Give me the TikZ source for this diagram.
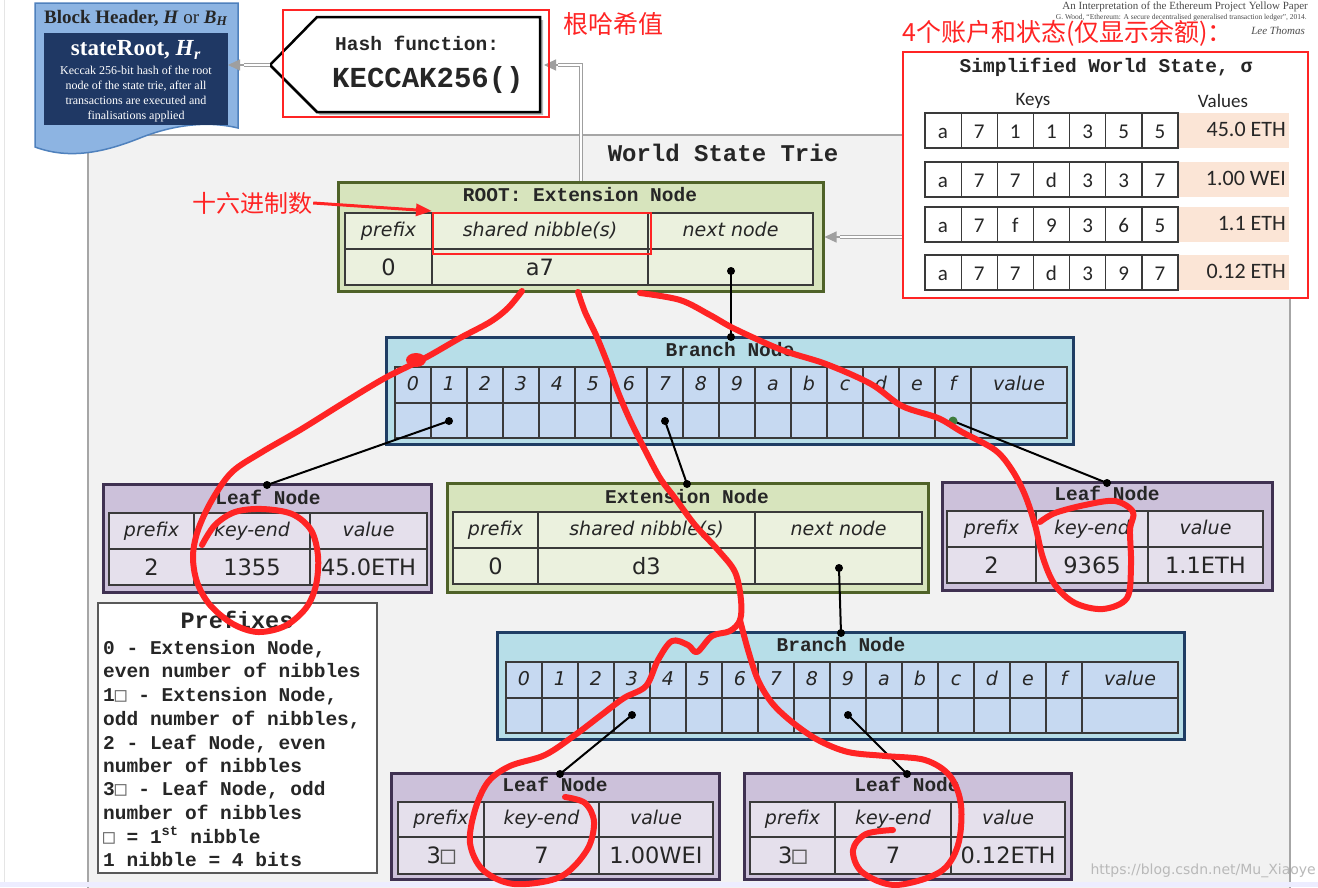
\documentclass[tikz,border=0pt]{standalone}
\usepackage{fontspec}
\setmainfont{Liberation Serif}
\newfontfamily\mono{Liberation Mono}
\newfontfamily\dvs{DejaVu Sans}
\newfontfamily\dvm{DejaVu Sans Mono}
\newfontfamily\carl{Carlito}
\newfontfamily\cjk{Noto Sans CJK SC}
\usetikzlibrary{arrows.meta,fit,calc}
\definecolor{rootfill}{HTML}{D7E4BD}
\definecolor{rootcell}{HTML}{EBF1DE}
\definecolor{rootline}{HTML}{4F6228}
\definecolor{brfill}{HTML}{B7DEE8}
\definecolor{brcell}{HTML}{C6D9F1}
\definecolor{brline}{HTML}{1F3D64}
\definecolor{lffill}{HTML}{CCC1DA}
\definecolor{lfcell}{HTML}{E5E0EC}
\definecolor{lfline}{HTML}{3F3151}
\definecolor{tblc}{HTML}{3A3A3A}
\definecolor{txt}{HTML}{262626}
\definecolor{pen}{HTML}{FF2424}
\definecolor{bhfill}{HTML}{8DB4E2}
\definecolor{bhline}{HTML}{4F81BD}
\definecolor{bhdark}{HTML}{1F3864}
\definecolor{peach}{HTML}{FBE5D6}
\definecolor{triebg}{HTML}{F2F2F2}
\definecolor{triel}{HTML}{A6A6A6}
\definecolor{dkgreen}{HTML}{3E7D3E}
\newcommand\myfs[1]{\fontsize{#1}{#1}\selectfont}
\newcommand\mysq{{\dvm\color{gray!80!black}□}}
\newcommand\mytbl[8]{%
  \draw[tline, fill=#8] (#1,#5) rectangle (#4,#7);
  \draw[tline] (#1,#6) -- (#4,#6) (#2,#5) -- (#2,#7) (#3,#5) -- (#3,#7);
}
\newcommand\mybranch[3]{%
  \node[draw=brline, line width=3pt, fill=brfill, inner sep=0pt, fit={(#2-9,#3-30) (#2+678,#3+77)}] (#1) {};
  \node[ttltxt] (#1t) at (#2+335,#3-15) {Branch Node};
  \draw[tline, fill=brcell] (#2,#3) rectangle (#2+672,#3+71);
  \draw[tline] (#2,#3+36) -- (#2+672,#3+36);
  \foreach \i in {1,...,16} \draw[tline] (#2+36*\i,#3) -- (#2+36*\i,#3+71);
  \foreach \l [count=\i from 0] in {0,1,2,3,4,5,6,7,8,9,a,b,c,d,e,f}
    \node[hdtxt] (#1c\i) at (#2+36*\i+18,#3+18) {\l};
  \node[hdtxt] (#1v) at (#2+624,#3+18) {value};
}
\tikzset{
  tline/.style={draw=tblc, line width=1.3pt},
  hdtxt/.style={font=\dvs\itshape\myfs{19}, text=txt, text height=14pt, text depth=4pt, inner sep=0pt},
  valtxt/.style={font=\dvs\myfs{22.5}, text=txt, text height=16pt, text depth=0pt, inner sep=0pt},
  ttltxt/.style={font=\mono\bfseries\myfs{19.5}, text=txt, text height=12pt, text depth=3pt, inner sep=0pt},
  pfx/.style={font=\mono\bfseries\myfs{19.5}, text=txt, anchor=base west, inner sep=0pt},
  dblline/.style={draw=gray!75, double=white, double distance=2pt, line width=1.3pt},
  tipgray/.style={draw=gray!75, line width=1.2pt, -{Triangle[length=12pt,width=11pt]}},
  connline/.style={draw=black, line width=2pt},
  penline/.style={draw=pen, line width=6pt, line cap=round, line join=round},
  rootbox/.style={draw=rootline, line width=3pt, fill=rootfill, inner sep=0pt},
  leafbox/.style={draw=lfline, line width=3pt, fill=lffill, inner sep=0pt},
  wscell/.style={font=\carl\myfs{21}, text=txt, inner sep=0pt, text height=14pt, text depth=0pt},
}
\begin{document}
\begin{tikzpicture}[x=1pt,y=-1pt]
\useasboundingbox (0,0) rectangle (1318,887);
\fill[white] (0,0) rectangle (1318,887);
\draw[gray!20, line width=1pt] (4,0) -- (4,887);
% world state trie background
\draw[triel, line width=2.5pt, fill=triebg] (88,135) rectangle (1290,905);
\node[font=\mono\bfseries\myfs{24}, text=txt] (wst) at (723,153) {World State Trie};
% block header
\draw[bhline, line width=1.5pt, fill=bhfill] (35,3) -- (238,3) -- (238,128)
  .. controls (205,120) and (170,126) .. (140,138)
  .. controls (105,152) and (70,160) .. (35,147) -- cycle;
\fill[bhdark] (44,33) rectangle (228,125);
\node[font=\bfseries\myfs{19}, text=txt] (bht) at (136,18) {Block Header, \textit{H} \textmd{or} \textit{B}\textsubscript{\textit{H}}};
\node[font=\bfseries\myfs{23}, text=white] (bhs) at (136,50) {stateRoot, \textit{H}\textsubscript{\textit{r}}};
\node[font=\fontsize{12}{15}\selectfont, text=white, align=center] (bhd) at (136,94) {Keccak 256-bit hash of the root\\node of the state trie, after all\\transactions are executed and\\finalisations applied};
\coordinate (bhR) at (228,65);
% hash function box
\fill[gray!55] (273,68) -- (320,20) -- (543,20) -- (543,115) -- (320,115) -- cycle;
\draw[line width=2.5pt, fill=white, line join=miter] (270,65) -- (317,17) -- (540,17) -- (540,112) -- (317,112) -- cycle;
\coordinate (hashL) at (270,65);
\coordinate (hashR) at (544,65);
\node[font=\mono\bfseries\myfs{19.5}, text=txt, anchor=west, inner sep=0pt] (hf1) at (335,43) {Hash function:};
\node[font=\mono\bfseries\myfs{29}, text=txt, anchor=west, inner sep=0pt] (hf2) at (332,80) {KECCAK256()};
% header texts top right
\node[anchor=base east, font=\myfs{11}, text=gray!60!black, inner sep=0pt] (ttl1) at (1308,9) {An Interpretation of the Ethereum Project Yellow Paper};
\node[anchor=base east, font=\myfs{7.5}, text=gray!60!black, inner sep=0pt] (ttl2) at (1307,19) {G. Wood, “Ethereum: A secure decentralised generalised transaction ledger”, 2014.};
\node[anchor=base east, font=\itshape\myfs{11}, text=gray!60!black, inner sep=0pt] (ttl3) at (1305,34) {Lee Thomas};
% root node
\node[rootbox, fit={(338,182) (823,291)}] (root) {};
\node[ttltxt] (roott) at (580,197) {ROOT: Extension Node};
\mytbl{345}{432}{648}{813}{213}{249}{285}{rootcell}
\node[hdtxt] (rooth1) at (388.5,231) {prefix};
\node[hdtxt] (rooth2) at (540,231) {shared nibble(s)};
\node[hdtxt] (rooth3) at (730.5,231) {next node};
\node[valtxt] (rootv1) at (388.5,267) {0};
\node[valtxt] (rootv2) at (540,267) {a7};
\coordinate (rootdot) at (731,271);
% arrows (double gray)
\coordinate (bhA) at (244,65);
\draw[dblline] (hashL) -- (bhA);
\draw[tipgray] (bhA) -- (bhR);
\coordinate (hashA) at (558,65);
\draw[dblline] (root.north -| 581,0) |- (hashA);
\draw[tipgray] (hashA) -- (hashR);
\coordinate (wsL) at (903,237);
\coordinate (rootA) at (840,237);
\draw[dblline] (wsL) -- (rootA);
\draw[tipgray] (rootA) -- (root.east |- rootA);
% simplified world state
\node[draw=gray!60, line width=1pt, fill=white, inner sep=0pt, fit={(903,52) (1308,298)}] (ws) {};
\node[font=\mono\bfseries\myfs{19.5}, text=txt] (wsT) at (1106,67) {Simplified World State, σ};
\node[font=\carl\myfs{19}, text=txt] (wsK) at (1033,101) {Keys};
\node[font=\carl\myfs{19}, text=txt] (wsV) at (1223,101) {Values};
\foreach \r/\yy/\ks/\vv in {1/113/{a,7,1,1,3,5,5}/45.0 ETH, 2/162/{a,7,7,d,3,3,7}/1.00 WEI, 3/207/{a,7,f,9,3,6,5}/1.1 ETH, 4/255/{a,7,7,d,3,9,7}/0.12 ETH}{
  \fill[peach] (1178,\yy) rectangle (1289,\yy+35);
  \draw[draw=tblc, line width=1.2pt, fill=white] (925,\yy) rectangle (1178,\yy+35);
  \foreach \j in {1,...,6} \draw[draw=tblc, line width=1.2pt] (925+36.15*\j,\yy) -- (925+36.15*\j,\yy+35);
  \foreach \k [count=\j from 0] in \ks
    \node[wscell] (ws\r k\j) at (943+36.15*\j,\yy+18) {\k};
  \node[font=\carl\myfs{22}, text=txt, anchor=east, inner sep=0pt, text height=15pt, text depth=0pt] (ws\r v) at (1286,\yy+16) {\vv};
}
% branch nodes
\mybranch{bA}{395}{367}
\mybranch{bB}{506}{662}
\coordinate (bAtop) at (731,337);
\coordinate (bAd1) at (449,421);
\coordinate (bAd7) at (665,421);
\coordinate (bAdf) at (953,421);
\coordinate (bBtop) at (841,633);
\coordinate (bBd3) at (632,715);
\coordinate (bBd9) at (848,715);
% extension node
\node[rootbox, fit={(447,483) (928,592)}] (ext) {};
\node[ttltxt] (extt) at (687,499) {Extension Node};
\mytbl{453}{538}{755}{922}{512}{548}{584}{rootcell}
\node[hdtxt] (exth1) at (495.5,530) {prefix};
\node[hdtxt] (exth2) at (646.5,530) {shared nibble(s)};
\node[hdtxt] (exth3) at (838.5,530) {next node};
\node[valtxt] (extv1) at (495.5,566) {0};
\node[valtxt] (extv2) at (646.5,566) {d3};
\coordinate (exttop) at (687,484);
\coordinate (extdot) at (839,568);
% leaf A
\node[leafbox, fit={(103,484) (431,592)}] (lfA) {};
\node[ttltxt] (lfAt) at (268,500) {Leaf Node};
\mytbl{109}{194}{310}{427}{513}{549}{585}{lfcell}
\node[hdtxt] (lfAh1) at (151.5,531) {prefix};
\node[hdtxt] (lfAh2) at (252,531) {key-end};
\node[hdtxt] (lfAh3) at (368.5,531) {value};
\node[valtxt] (lfAv1) at (151.5,567) {2};
\node[valtxt] (lfAv2) at (252,567) {1355};
\node[valtxt] (lfAv3) at (368.5,567) {45.0ETH};
\coordinate (lfAtop) at (267,485);
% leaf B
\node[leafbox, fit={(942,482) (1272,590)}] (lfB) {};
\node[ttltxt] (lfBt) at (1107,496) {Leaf Node};
\mytbl{947}{1036}{1148}{1263}{511}{547}{583}{lfcell}
\node[hdtxt] (lfBh1) at (991.5,529) {prefix};
\node[hdtxt] (lfBh2) at (1092,529) {key-end};
\node[hdtxt] (lfBh3) at (1205.5,529) {value};
\node[valtxt] (lfBv1) at (991.5,565) {2};
\node[valtxt] (lfBv2) at (1092,565) {9365};
\node[valtxt] (lfBv3) at (1205.5,565) {1.1ETH};
\coordinate (lfBtop) at (1107,483);
% leaf C
\node[leafbox, fit={(391,773) (719,879)}] (lfC) {};
\node[ttltxt] (lfCt) at (555,787) {Leaf Node};
\mytbl{398}{484}{599}{713}{802}{837}{874}{lfcell}
\node[hdtxt] (lfCh1) at (441,819.5) {prefix};
\node[hdtxt] (lfCh2) at (541.5,819.5) {key-end};
\node[hdtxt] (lfCh3) at (656,819.5) {value};
\node[valtxt] (lfCv1) at (441,855.5) {3{\dvm\myfs{24}\color{gray!70!black}□}};
\node[valtxt] (lfCv2) at (541.5,855.5) {7};
\node[valtxt] (lfCv3) at (656,855.5) {1.00WEI};
\coordinate (lfCtop) at (560,774);
% leaf D
\node[leafbox, fit={(744,773) (1071,879)}] (lfD) {};
\node[ttltxt] (lfDt) at (907,787) {Leaf Node};
\mytbl{750}{835}{951}{1065}{802}{837}{874}{lfcell}
\node[hdtxt] (lfDh1) at (792.5,819.5) {prefix};
\node[hdtxt] (lfDh2) at (893,819.5) {key-end};
\node[hdtxt] (lfDh3) at (1008,819.5) {value};
\node[valtxt] (lfDv1) at (792.5,855.5) {3{\dvm\myfs{24}\color{gray!70!black}□}};
\node[valtxt] (lfDv2) at (893,855.5) {7};
\node[valtxt] (lfDv3) at (1008,855.5) {0.12ETH};
\coordinate (lfDtop) at (907,774);
% prefixes box
\node[draw=gray!70!black, line width=2.5pt, fill=white, inner sep=0pt, fit={(98,603) (377,873)}] (pbox) {};
\node[font=\mono\bfseries\myfs{23.5}, text=txt] (pT) at (237,620) {Prefixes};
\node[pfx] (p1) at (103,654) {0 - Extension Node,};
\node[pfx] (p2) at (103,677) {even number of nibbles};
\node[pfx] (p3) at (103,701) {1\mysq{} - Extension Node,};
\node[pfx] (p4) at (103,725) {odd number of nibbles,};
\node[pfx] (p5) at (103,749) {2 - Leaf Node, even};
\node[pfx] (p6) at (103,772) {number of nibbles};
\node[pfx] (p7) at (103,795) {3\mysq{} - Leaf Node, odd};
\node[pfx] (p8) at (103,819) {number of nibbles};
\node[pfx] (p9) at (103,843) {\mysq{} = 1\textsuperscript{st} nibble};
\node[pfx] (p10) at (103,866) {1 nibble = 4 bits};
% connectors
\draw[connline] (rootdot) -- (bAtop);
\draw[connline] (bAd1) -- (lfAtop);
\draw[connline] (bAd7) -- (exttop);
\draw[connline] (bAdf) -- (lfBtop);
\draw[connline] (extdot) -- (bBtop);
\draw[connline] (bBd3) -- (lfCtop);
\draw[connline] (bBd9) -- (lfDtop);
\foreach \c in {rootdot,bAtop,bAd1,bAd7,bBtop,bBd3,bBd9,exttop,extdot,lfAtop,lfBtop,lfCtop,lfDtop}
  \fill[black] (\c) circle (4pt);
\fill[dkgreen] (bAdf) circle (4.5pt);
% url and bottom strip
\fill[blue!7] (0,882) rectangle (1318,887);
\node[font=\dvs\myfs{14}, text=gray!55, anchor=east, inner sep=0pt] (url) at (1316,871) {https://blog.csdn.net/Mu\_Xiaoye};
% red annotations
\draw[pen, line width=2.2pt] (283,10) rectangle (549,117);
\draw[pen, line width=2.2pt] (903,52) rectangle (1308,298);
\draw[pen, line width=2.5pt] (433,213) rectangle (651,254);
\node[font=\cjk\myfs{25}, text=pen, anchor=west, inner sep=0pt] (cn1) at (563,24) {根哈希值};
\node[font=\cjk\myfs{25}, text=pen, anchor=west, inner sep=0pt] (cn2) at (902,33) {4个账户和状态(仅显示余额)：};
\node[font=\cjk\myfs{24}, text=pen, inner sep=1pt] (cn3) at (252,203) {十六进制数};
\draw[pen, line width=3pt, -{Triangle[length=16pt,width=12pt]}] (cn3.east) -- (432,211);
\draw[penline] plot[smooth, tension=0.55] coordinates {(522,291) (508,308) (490,322) (460,338) (425,358) (385,378) (345,402) (300,430) (262,452) (232,472) (212,500) (198,530) (193,556) (197,582) (210,605) (233,624) (258,632) (285,626) (306,608) (316,585) (318,556) (311,530) (292,514) (262,509) (235,512) (215,525) (202,545)};
\fill[pen] (416,360) ellipse (10pt and 7pt);
\draw[penline] plot[smooth, tension=0.55] coordinates {(578,292) (585,312) (596,335) (607,362) (618,392) (630,420) (645,450) (660,478) (675,498) (695,525) (718,550) (735,572) (741,600) (740,620) (730,631) (712,636) (697,652) (688,645) (672,641) (658,660) (646,686) (624,698) (600,716) (575,735) (545,755) (510,766) (488,782) (475,810) (470,843) (483,870) (514,884) (560,877) (587,850) (594,822) (585,803) (565,797)};
\draw[penline] plot[smooth, tension=0.55] coordinates {(740,620) (748,650) (758,680) (772,703) (792,722) (818,740) (848,752) (885,756) (925,760) (950,776) (961,805) (958,845) (940,872) (895,885) (862,872) (853,850) (866,834) (893,830)};
\draw[penline] plot[smooth, tension=0.55] coordinates {(640,293) (680,300) (710,315) (735,329) (782,350) (826,364) (871,384) (902,406) (938,418) (962,432) (995,450) (1012,470) (1025,495) (1035,525) (1043,558) (1055,585) (1075,603) (1103,609) (1127,598) (1131,565) (1130,530) (1133,512) (1115,501) (1085,505) (1055,513) (1040,522)};
\end{tikzpicture}
\end{document}
